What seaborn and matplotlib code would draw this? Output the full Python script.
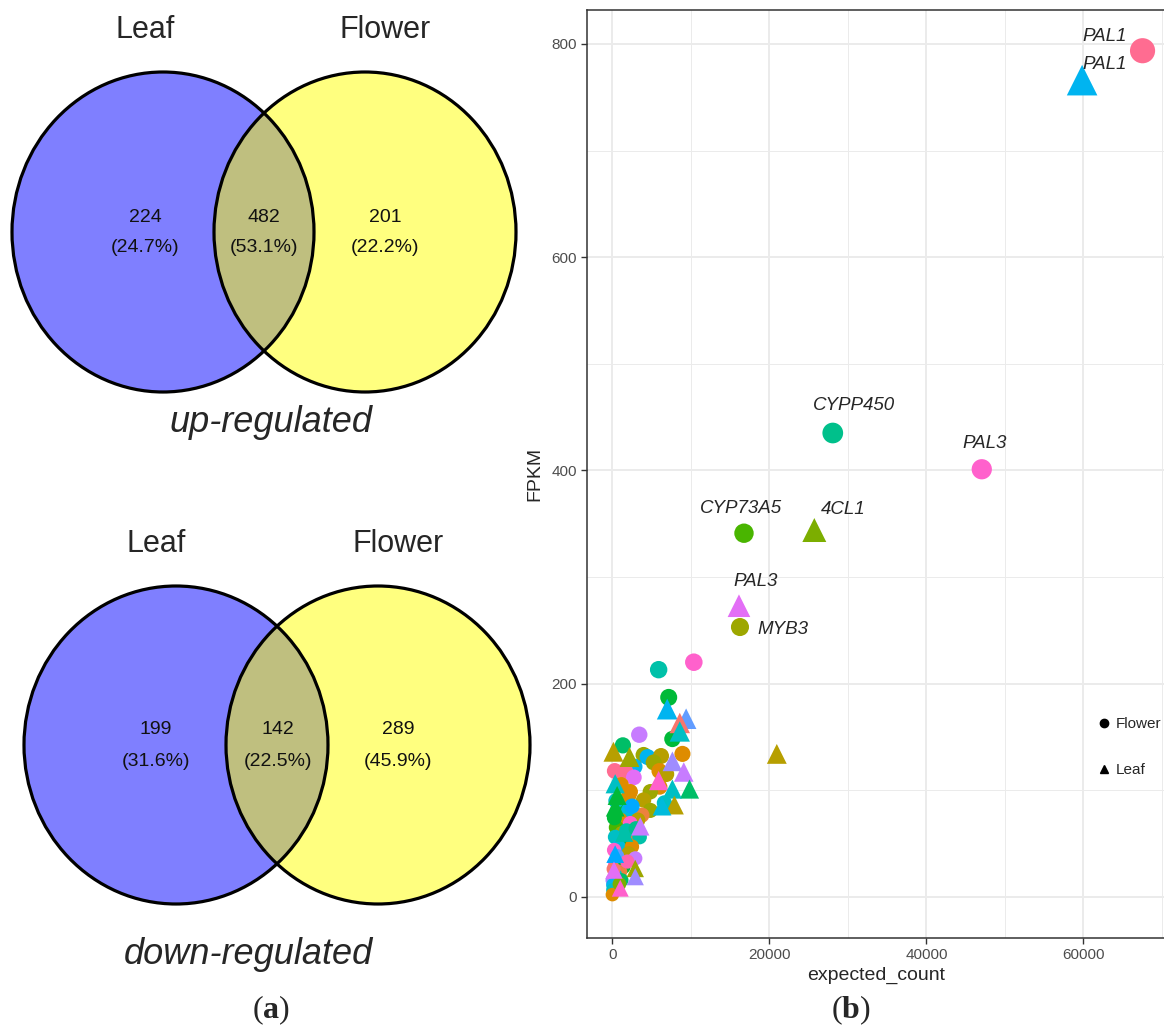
import numpy as np
import pandas as pd
import matplotlib
matplotlib.use("Agg")
import matplotlib.pyplot as plt
from matplotlib.patches import Ellipse
from matplotlib.lines import Line2D
import seaborn as sns

# =====================================================
# DATA
# =====================================================

venn_sets = ["Leaf", "Flower"]
up_counts = [224, 482, 201]      # leaf only, both, flower only
down_counts = [199, 142, 289]

# labelled genes
lab_names = ["PAL1", "PAL3", "CYPP450", "CYP73A5", "MYB3", "PAL1", "4CL1", "PAL3"]
lab_tissue = ["Flower", "Flower", "Flower", "Flower", "Flower", "Leaf", "Leaf", "Leaf"]
lab_gene = ["g24", "g22", "g11", "g08", "g06", "g15", "g07", "g20"]
lab_count = [67530, 47050, 28070, 16760, 16250, 59830, 25720, 16120]
lab_fpkm = [793.6, 401, 435, 341, 253, 766, 344, 273]

# the unlabelled cloud near the origin
flower_count = [5890, 10370, 7170, 7640, 3420, 1330, 3970, 4480, 6190, 8920,
                2820, 1630, 2730, 5250, 5980, 6870, 6020, 2270, 4830, 2060,
                3970, 6620, 4830, 780, 2060, 3760, 3250, 990, 2270, 480,
                1200, 2690, 3460, 350, 1420, 780, 220, 2480, 2060, 2910,
                350, 1420, 1000, 350, 0, 1170, 70, 70, 0, 300,
                1800, 600, 150, 900, 2500, 1100, 450, 3000, 1900, 250]
flower_fpkm = [213, 220, 187, 148, 152, 142, 133, 131, 132, 134,
               122, 118, 112, 126, 118, 115, 103, 98.5, 98.5, 94.5,
               90.7, 88, 81, 82, 81, 76.6, 72, 72, 68.8, 65,
               59.5, 54.8, 56, 56, 50, 47, 43.8, 47, 40.7, 36,
               31.3, 28, 23.5, 20.5, 15.6, 15.6, 11, 6.4, 2, 118,
               62, 38, 26, 12, 85, 105, 90, 64, 33, 74]
flower_gene = ["g12", "g22", "g09", "g09", "g19", "g10", "g06", "g15", "g05", "g03",
               "g15", "g24", "g20", "g06", "g03", "g05", "g03", "g03", "g06", "g03",
               "g05", "g13", "g06", "g09", "g14", "g02", "g05", "g03", "g22", "g08",
               "g06", "g02", "g12", "g13", "g09", "g14", "g22", "g03", "g05", "g19",
               "g21", "g09", "g02", "g13", "g18", "g10", "g15", "g13", "g03", "g24",
               "g12", "g17", "g01", "g07", "g16", "g03", "g13", "g11", "g23", "g09"]

leaf_count = [6980, 9390, 8580, 8580, 130, 2180, 7640, 5890, 9090, 9820,
              7640, 350, 7900, 6320, 350, 3550, 2910, 2910, 1000, 20940,
              350, 600, 1500, 200]
leaf_fpkm = [176, 167, 163, 155, 136, 131, 127, 109, 117, 101,
             101, 106, 86, 85, 84, 66, 26.5, 18.8, 8, 134,
             40, 95, 60, 25]
leaf_gene = ["g15", "g17", "g01", "g13", "g05", "g06", "g18", "g22", "g19", "g10",
             "g13", "g13", "g05", "g14", "g09", "g19", "g06", "g18", "g22", "g05",
             "g16", "g09", "g12", "g20"]

# =====================================================
# GGPLOT HUE PALETTE (hcl, c=100, l=65)
# =====================================================


def hcl_hex(h, c=100, l=65):
    hr = np.deg2rad(h)
    u = c * np.cos(hr)
    v = c * np.sin(hr)
    xn, yn, zn = 95.047, 100.0, 108.883
    un = 4 * xn / (xn + 15 * yn + 3 * zn)
    vn = 9 * yn / (xn + 15 * yn + 3 * zn)
    y = yn * ((l + 16) / 116) ** 3
    up = u / (13 * l) + un
    vp = v / (13 * l) + vn
    x = y * 9 * up / (4 * vp)
    z = y * (12 - 3 * up - 20 * vp) / (4 * vp)
    x, y, z = x / 100, y / 100, z / 100
    rgb = np.array([
        3.2406 * x - 1.5372 * y - 0.4986 * z,
        -0.9689 * x + 1.8758 * y + 0.0415 * z,
        0.0557 * x - 0.2040 * y + 1.0570 * z,
    ])
    rgb = np.where(rgb <= 0.0031308, 12.92 * rgb,
                   1.055 * np.clip(rgb, 0, None) ** (1 / 2.4) - 0.055)
    rgb = np.clip(rgb, 0, 1)
    return matplotlib.colors.to_hex(rgb)


genes = ["g%02d" % i for i in range(1, 25)]
palette = {g: hcl_hex(15 + 15 * i) for i, g in enumerate(genes)}

# =====================================================
# TABLES
# =====================================================

df_flower = pd.DataFrame({
    "expected_count": flower_count,
    "FPKM": flower_fpkm,
    "gene": flower_gene,
})
df_leaf = pd.DataFrame({
    "expected_count": leaf_count,
    "FPKM": leaf_fpkm,
    "gene": leaf_gene,
})
df_lab = pd.DataFrame({
    "name": lab_names,
    "tissue": lab_tissue,
    "gene": lab_gene,
    "expected_count": lab_count,
    "FPKM": lab_fpkm,
})

# =====================================================
# STYLE
# =====================================================

sns.set_theme(style="white")
plt.rcParams["font.family"] = ["Liberation Sans", "DejaVu Sans"]
plt.rcParams["mathtext.fontset"] = "custom"
plt.rcParams["mathtext.rm"] = "Liberation Serif"
plt.rcParams["mathtext.bf"] = "Liberation Serif:bold"

fig = plt.figure(figsize=(11.64, 10.28), dpi=100)

# =====================================================
# VENN DIAGRAMS (pixel coordinates)
# =====================================================

ax0 = fig.add_axes([0, 0, 1, 1])
ax0.set_xlim(0, 1164)
ax0.set_ylim(1028, 0)
ax0.axis("off")

venns = [
    # counts, circle centre y, left cx, right cx, w, h, set label y, text x, number y, title, title pos
    (up_counts, 232, 163, 365, 302, 320, 30, [145, 264, 385], 217, "up-regulated", (271, 422)),
    (down_counts, 745, 176, 378, 304, 318, 544, [156, 278, 398], 730, "down-regulated", (248, 954)),
]

for counts, cy, lx, rx, w, h, ty, tx, ny, title, tpos in venns:
    total = sum(counts)
    ax0.add_patch(Ellipse((lx, cy), w, h, facecolor="#0000FF", alpha=0.5, lw=0))
    ax0.add_patch(Ellipse((rx, cy), w, h, facecolor="#FFFF00", alpha=0.5, lw=0))
    ax0.add_patch(Ellipse((lx, cy), w, h, facecolor="none", edgecolor="black", lw=2.3))
    ax0.add_patch(Ellipse((rx, cy), w, h, facecolor="none", edgecolor="black", lw=2.3))
    ax0.text(tx[0], ty, venn_sets[0], fontsize=22, ha="center", va="center")
    ax0.text(tx[2], ty, venn_sets[1], fontsize=22, ha="center", va="center")
    for x, n in zip(tx, counts):
        ax0.text(x, ny, str(n), fontsize=14, ha="center", va="center", color="#111111")
        ax0.text(x, ny + 31, "(%.1f%%)" % (100 * n / total), fontsize=14,
                 ha="center", va="center", color="#111111")
    ax0.text(tpos[0], tpos[1], title, fontsize=26, style="italic",
             ha="center", va="center")

ax0.text(271, 1010, r"($\mathbf{a}$)", fontsize=23, ha="center", va="center",
         family="Liberation Serif")
ax0.text(851, 1010, r"($\mathbf{b}$)", fontsize=23, ha="center", va="center",
         family="Liberation Serif")

# =====================================================
# SCATTER
# =====================================================

ax = fig.add_axes([586.7 / 1164, 1 - 938 / 1028, 1.002 - 586.7 / 1164, (938 - 10) / 1028])

size_norm = (0, 800)
sizes_o = (95, 330)
sizes_t = (145, 500)

sns.scatterplot(data=df_flower, x="expected_count", y="FPKM", hue="gene",
                palette=palette, size="FPKM", sizes=sizes_o, size_norm=size_norm,
                marker="o", linewidth=0, legend=False, ax=ax, zorder=3)
sns.scatterplot(data=df_leaf, x="expected_count", y="FPKM", hue="gene",
                palette=palette, size="FPKM", sizes=sizes_t, size_norm=size_norm,
                marker="^", linewidth=0, legend=False, ax=ax, zorder=3)

for tissue, mk, sz in [("Flower", "o", sizes_o), ("Leaf", "^", sizes_t)]:
    sub = df_lab[df_lab["tissue"] == tissue]
    sns.scatterplot(data=sub, x="expected_count", y="FPKM", hue="gene",
                    palette=palette, size="FPKM", sizes=sz, size_norm=size_norm,
                    marker=mk, linewidth=0, legend=False, ax=ax, zorder=4)

# label offsets in pixels (x right, y up)
label_offsets = [(-38, 14), (3, 26), (21, 28), (-3, 25), (43, -2), (23, 16), (29, 21), (17, 24)]

for (_, row), off in zip(df_lab.iterrows(), label_offsets):
    ax.annotate(row["name"], (row["expected_count"], row["FPKM"]),
                xytext=off, textcoords="offset pixels", fontsize=13.5,
                style="italic", ha="center", va="center", zorder=5)

ax.set_xlim(-3276, 70560)
ax.set_ylim(-38.7, 831.8)
ax.set_xticks([0, 20000, 40000, 60000])
ax.set_yticks([0, 200, 400, 600, 800])
ax.set_xticks([10000, 30000, 50000, 70000], minor=True)
ax.set_yticks([100, 300, 500, 700], minor=True)
ax.grid(True, which="major", color="#EBEBEB", lw=1.4, zorder=0)
ax.grid(True, which="minor", color="#EBEBEB", lw=0.7, zorder=0)
ax.set_axisbelow(True)
ax.tick_params(which="major", length=4, width=1.0, color="#333333",
               labelsize=11, labelcolor="#4D4D4D", pad=3, bottom=True, left=True)
ax.tick_params(which="minor", length=0)
for s in ax.spines.values():
    s.set_color("#333333")
    s.set_linewidth(1.1)

ax.set_xlabel("expected_count", fontsize=14, labelpad=4)
ax.set_ylabel("FPKM", fontsize=14, labelpad=6)

handles = [
    Line2D([], [], marker="o", color="black", linestyle="none", markersize=6),
    Line2D([], [], marker="^", color="black", linestyle="none", markersize=6),
]
ax.legend(handles, ["Flower", "Leaf"], loc="center left",
          bbox_to_anchor=(0.8846, 0.2058), frameon=False, fontsize=11,
          handlelength=0.6, handletextpad=0.5, borderpad=0, borderaxespad=0,
          labelspacing=2.1)

plt.savefig("out.png", dpi=100)
